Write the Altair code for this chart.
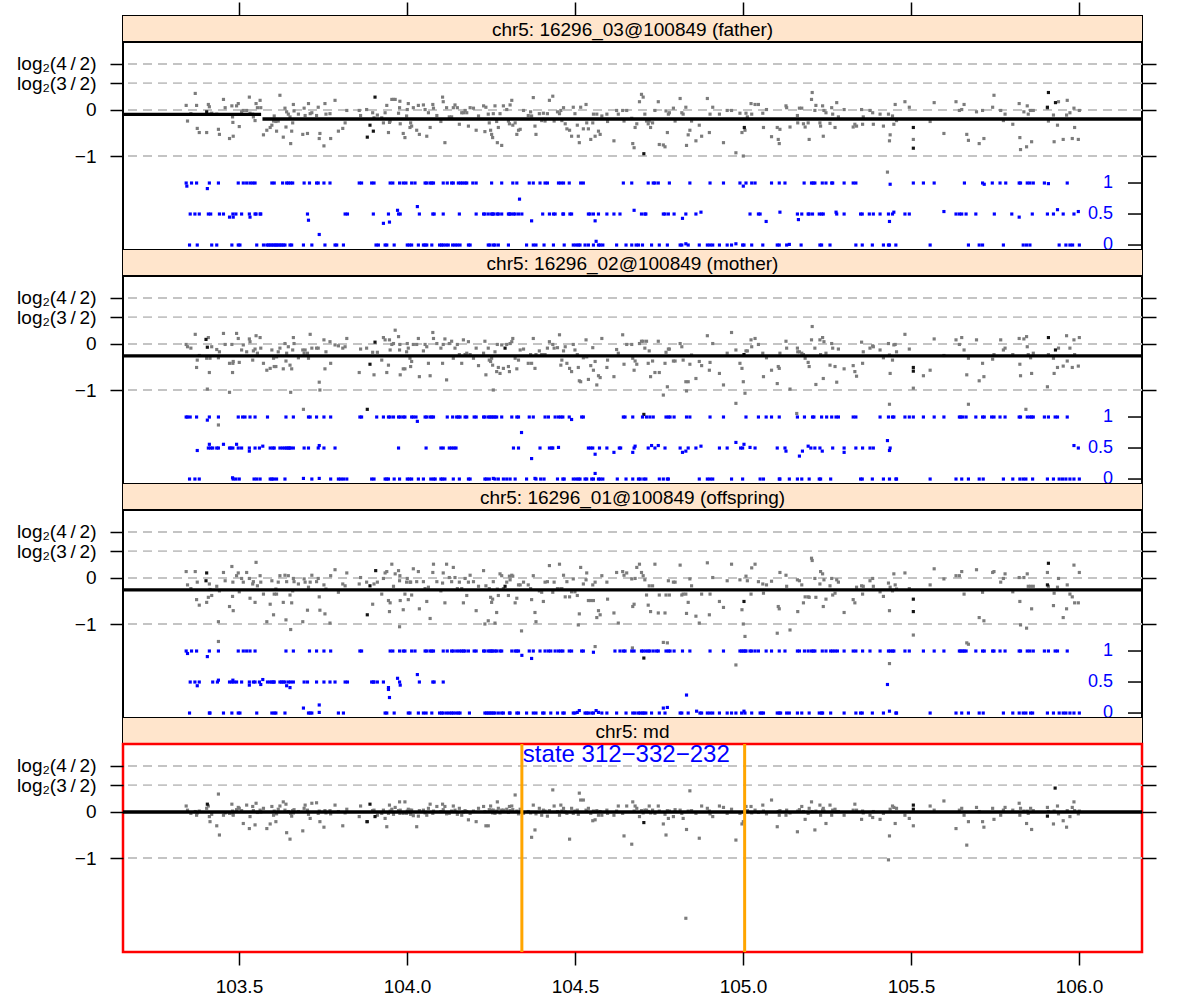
import math
import altair as alt
import pandas as pd

# ---------------------------------------------------------------- scales
X_DOMAIN = [103.155, 106.1875]          # Mb on chr5
Y_DOMAIN = [-3.043, 1.478]              # log2 ratio axis
X_TICKS = [103.5, 104.0, 104.5, 105.0, 105.5, 106.0]
LOG_TICKS = [-1.0, 0.0, math.log2(3 / 2), 1.0]
BAF_TICKS = [0.0, 0.5, 1.0]
BAF_LABELS = ["0", "0.5", "1"]
BAF_BASE, BAF_SPAN = -2.935, 1.348      # B-allele band drawn below the ratios

# ---------------------------------------------------------------- probes (Mb)
POS_A = [
    103.343, 103.347, 103.357, 103.370, 103.374, 103.376, 103.382, 103.404, 103.409, 103.412,
    103.414, 103.419, 103.434, 103.439, 103.442, 103.454, 103.459, 103.472, 103.479, 103.481,
    103.482, 103.483, 103.493, 103.498, 103.501, 103.508, 103.513, 103.523, 103.531, 103.533,
    103.541, 103.543, 103.548, 103.551, 103.555, 103.563, 103.565, 103.573, 103.583, 103.593,
    103.598, 103.603, 103.605, 103.610, 103.612, 103.617, 103.622, 103.632, 103.637, 103.640,
    103.642, 103.647, 103.652, 103.654, 103.657, 103.660, 103.662, 103.664, 103.677, 103.690,
    103.694, 103.697, 103.704, 103.707, 103.712, 103.717, 103.731, 103.736, 103.739, 103.741,
    103.753, 103.756, 103.759, 103.771, 103.773, 103.786, 103.796, 103.809, 103.816, 103.821,
    103.858, 103.862, 103.880, 103.898, 103.902, 103.912, 103.925, 103.930, 103.935, 103.940,
    103.945, 103.948, 103.950, 103.955, 103.960, 103.965, 103.975, 103.978, 103.979, 103.980,
    103.989, 103.994, 103.999, 104.001, 104.004, 104.009, 104.011, 104.014, 104.019, 104.029,
    104.034, 104.037, 104.049, 104.054, 104.059, 104.064, 104.069, 104.077, 104.079, 104.089,
    104.101, 104.106, 104.108, 104.113, 104.118, 104.126, 104.133, 104.138, 104.143, 104.150,
    104.156, 104.163, 104.168, 104.173, 104.178, 104.183, 104.188, 104.198, 104.206, 104.213,
    104.228, 104.232, 104.235, 104.242, 104.245, 104.249, 104.252, 104.255, 104.257, 104.262,
    104.267, 104.269, 104.272, 104.277, 104.282, 104.287, 104.297, 104.302, 104.305, 104.307,
    104.312, 104.315, 104.322, 104.327, 104.332, 104.337, 104.347, 104.361, 104.368, 104.371,
    104.376, 104.381, 104.384, 104.394, 104.401, 104.406, 104.411, 104.418, 104.424, 104.434,
    104.438, 104.448, 104.454, 104.458, 104.461, 104.466, 104.471, 104.476, 104.484, 104.490,
    104.495, 104.500, 104.507, 104.510, 104.513, 104.517, 104.525, 104.533, 104.535, 104.540,
    104.547, 104.553, 104.555, 104.560, 104.565, 104.570, 104.575, 104.580, 104.595, 104.597,
    104.616, 104.624, 104.629, 104.642, 104.646, 104.654,
]
POS_B = [
    104.669, 104.672, 104.676, 104.679, 104.684, 104.692, 104.698, 104.703, 104.708, 104.713,
    104.718, 104.721, 104.725, 104.731, 104.738, 104.748, 104.751, 104.763, 104.768, 104.771,
    104.775, 104.778, 104.781, 104.793, 104.798, 104.813, 104.818, 104.822, 104.830, 104.832,
    104.837, 104.842, 104.847, 104.860, 104.870, 104.877, 104.894, 104.900, 104.902, 104.910,
    104.930, 104.942, 104.953, 104.966, 104.979, 104.991, 104.997, 105.001, 105.006, 105.009,
    105.013, 105.024, 105.026, 105.036, 105.046, 105.059, 105.061, 105.070, 105.085, 105.102,
    105.105, 105.108, 105.110, 105.128, 105.130, 105.140, 105.162, 105.163, 105.168, 105.175,
    105.180, 105.185, 105.194, 105.197, 105.204, 105.206, 105.214, 105.217, 105.229, 105.231,
    105.237, 105.239, 105.241, 105.247, 105.259, 105.264, 105.267, 105.274, 105.279, 105.284,
    105.301, 105.328, 105.333, 105.338, 105.353, 105.356, 105.358, 105.378, 105.386, 105.388,
    105.408, 105.418, 105.433, 105.436, 105.438, 105.445, 105.449, 105.453, 105.457, 105.482,
    105.495, 105.507, 105.557, 105.569, 105.598, 105.634, 105.644, 105.651, 105.658, 105.666,
    105.671, 105.695, 105.703, 105.713, 105.717, 105.743, 105.747, 105.767, 105.775, 105.780,
    105.803, 105.822, 105.824, 105.826, 105.836, 105.844, 105.846, 105.849, 105.856, 105.859,
    105.864, 105.906, 105.909, 105.924, 105.926, 105.936, 105.939, 105.953, 105.963, 105.965,
    105.973, 105.980, 105.985, 105.987, 105.998, 106.001,
]

# ---------------------------------------------------------------- log2 ratios
LR_FATHER = [
    0.10, -0.24, -0.08, 0.36, 0.10, -0.40, -0.49, -0.49, 0.12, 0.07,
    -0.09, -0.07, -0.09, -0.42, -0.53, 0.23, 0.05, -0.62, 0.09, -0.15,
    -0.27, -0.57, 0.09, 0.14, -0.36, -0.04, -0.01, -0.01, 0.28, -0.07,
    -0.09, -0.15, -0.23, 0.14, 0.05, 0.21, 0.05, -0.54, -0.44, -0.38,
    -0.33, -0.24, -0.13, -0.25, -0.46, -0.24, 0.32, -0.59, 0.04, -0.37,
    -0.04, -0.09, -0.15, -0.73, -0.46, -0.28, 0.12, -0.02, -0.09, -0.53,
    0.04, -0.12, -0.51, 0.14, -0.08, -0.06, -0.12, 0.06, -0.62, -0.51,
    -0.78, 0.14, -0.09, -0.08, -0.62, 0.21, -0.46, -0.40, -0.28, -0.01,
    -0.01, -0.12, 0.01, -0.06, -0.17, -0.11, -0.17, -0.28, -0.06, 0.10,
    -0.49, -0.27, -0.24, 0.23, 0.23, 0.23, -0.07, 0.05, 0.19, -0.30,
    -0.51, -0.60, -0.13, 0.01, 0.14, -0.38, -0.28, -0.35, 0.05, -0.44,
    0.10, -0.53, 0.11, 0.01, -0.57, -0.06, -0.38, 0.12, 0.04, -0.12,
    -0.25, 0.28, 0.18, -0.71, 0.05, -0.15, -0.15, 0.05, 0.11, 0.05,
    -0.31, -0.06, -0.06, -0.01, -0.06, -0.35, 0.05, 0.04, -0.44, -0.13,
    0.09, -0.47, 0.06, -0.09, -0.28, -0.44, -0.53, -0.60, -0.08, 0.09,
    -0.25, -0.71, -0.38, -0.08, -0.77, 0.09, 0.01, -0.24, -0.30, 0.11,
    0.21, -0.33, -0.28, -0.53, -0.44, -0.42, -0.01, -0.12, -0.04, -0.13,
    0.27, -0.35, -0.53, -0.08, -0.23, -0.07, -0.24, -0.08, 0.21, 0.30,
    -0.24, -0.04, -0.08, -0.01, -0.23, 0.05, -0.30, -0.41, -0.44, -0.57,
    0.06, -0.08, -0.33, -0.57, -0.71, 0.06, -0.41, 0.12, -0.28, -0.41,
    -0.64, -0.28, -0.09, -0.57, -0.09, -0.46, -0.53, -0.13, -0.09, -0.25,
    -0.67, -0.01, -0.09, -0.01, -0.24, -0.01,
    -0.18, -0.73, -0.82, -0.38, -0.30, 0.18, 0.34, 0.28, -0.09, -0.24,
    -0.30, -0.24, -0.38, -0.28, -0.01, 0.18, -0.75, -0.76, -0.80, -0.02,
    -0.49, -0.09, -0.06, 0.04, -0.24, 0.25, -0.06, -0.09, 0.06, -0.77,
    -0.54, -0.44, -0.24, -0.67, -0.33, -0.57, 0.25, -0.49, -0.09, 0.06,
    -0.09, -0.71, -0.01, -0.01, -0.93, -0.07, -0.49, -1.00, -0.44, -0.07,
    -0.15, 0.14, -0.09, 0.12, 0.12, -0.07, -0.38, 0.01, -0.58, -0.38,
    -0.64, -0.73, -0.42, 0.09, 0.05, -0.37, -0.12, -0.28, 0.04, 0.04,
    -0.30, -0.37, -0.28, -0.64, 0.23, 0.38, -0.01, 0.10, -0.28, -0.35,
    0.09, -0.57, -0.01, -0.06, -0.29, 0.05, -0.09, -0.38, 0.16, -0.15,
    0.01, -0.37, -0.31, -0.35, 0.01, -0.31, -0.15, -0.01, -0.06, -0.31,
    -0.09, -0.35, -0.09, -0.67, -0.54, -0.13, -0.31, 0.12, -0.23, 0.18,
    0.06, -0.64, -0.25, 0.16, -0.51, 0.18, -0.01, 0.01, 0.12, -0.53,
    -0.66, -0.04, -0.73, -0.01, -0.62, 0.06, 0.32, -0.01, -0.23, -0.09,
    -0.31, 0.14, -0.60, -0.86, -0.04, -0.80, 0.09, -0.09, -0.01, -0.69,
    -0.01, 0.04, -0.24, -0.11, -0.69, -0.33, 0.18, -0.64, -0.11, 0.21,
    -0.06, -0.62, 0.04, -0.38, -0.64, -0.01,
]
LR_MOTHER = [
    -0.01, -0.06, -0.09, 0.21, -0.51, -0.35, -0.25, -0.31, 0.14, -0.62,
    -0.31, -0.06, -0.12, -0.30, -0.17, 0.23, -0.01, -0.42, -0.01, -0.62,
    -0.42, -0.38, 0.23, 0.12, -0.40, -0.13, -0.02, -0.17, 0.11, 0.05,
    -0.35, -0.15, -0.11, 0.18, -0.20, 0.14, -0.09, -0.42, -0.57, -0.53,
    -0.13, -0.31, -0.49, -0.49, -0.28, -0.17, -0.09, -0.54, 0.01, -0.37,
    -0.20, -0.06, -0.46, -1.05, -0.54, -0.13, 0.14, 0.01, -0.30, -0.13,
    -0.20, -0.13, -0.20, -0.31, 0.21, -0.09, -0.09, -0.09, -0.83, -1.00,
    0.09, -0.54, -0.17, 0.05, -0.42, -0.02, -0.04, -0.09, -0.06, 0.12,
    -0.62, -0.11, -0.09, -0.18, -0.67, -0.18, -0.35, 0.14, 0.09, -0.62,
    -0.46, 0.09, -0.13, -0.01, 0.01, 0.30, 0.16, -0.13, -0.01, -0.67,
    -0.54, -0.54, -0.17, 0.01, -0.09, -0.31, -0.49, -0.38, -0.01, -0.01,
    0.12, -0.71, -0.15, -0.01, -0.06, -0.42, -0.69, 0.25, 0.12, 0.01,
    -0.09, -0.42, -0.01, 0.11, -0.78, 0.01, 0.06, -0.31, -0.09, -0.01,
    -0.23, -0.42, 0.09, -0.23, -0.20, 0.05, -0.23, -0.31, -0.09, -0.47,
    -0.20, 0.06, -0.67, -0.09, -0.35, -0.38, -0.31, -0.46, -1.00, -0.17,
    -0.60, -0.01, -0.51, -0.64, -0.02, -0.53, -0.01, -0.49, -0.60, 0.01,
    0.05, 0.12, -0.31, -0.54, -0.35, -0.13, -0.11, -0.42, -0.23, -0.42,
    0.12, -0.53, -0.23, -0.15, -0.23, -0.23, -0.23, -0.09, 0.05, -0.01,
    -0.09, -0.08, 0.20, -0.46, -0.35, -0.15, -0.06, -0.42, -0.53, -0.60,
    -0.01, -0.13, -0.23, -0.51, -0.80, -0.82, -0.30, 0.09, -0.28, -0.77,
    -0.47, -0.08, -0.57, -0.38, -0.89, -0.69, -0.73, 0.12, -0.51, -0.35,
    -0.71, -0.12, -0.20, 0.20, -0.44, -0.01,
    -0.01, -0.31, -0.57, -0.37, -0.44, 0.01, 0.06, 0.06, -0.09, 0.06,
    -0.42, -0.15, -0.71, -0.37, -0.62, 0.06, -0.62, -1.11, -0.42, -0.18,
    -0.93, -0.11, -0.11, -0.37, -0.37, 0.01, -0.06, -0.35, -0.82, -1.02,
    -0.82, -0.44, -0.24, -0.75, -0.38, -0.47, 0.18, -0.57, -0.40, 0.01,
    -0.64, -0.89, -0.20, 0.25, -0.13, -0.42, -0.53, -0.82, -1.07, -0.15,
    -0.15, 0.09, -0.06, 0.12, -0.01, -0.20, -0.71, -0.30, -0.57, -0.86,
    -0.49, -0.53, -0.20, 0.06, -0.09, -0.98, -0.09, -0.17, -0.17, -0.20,
    -0.23, -0.31, -0.40, -0.49, 0.09, 0.38, -0.09, -0.88, 0.09, -0.23,
    0.14, -0.75, 0.05, -0.20, -0.46, 0.01, -0.09, -0.49, -0.83, -0.11,
    -0.54, -0.47, -0.60, -0.70, 0.04, -0.42, -0.17, -0.09, -0.04, -0.06,
    -0.13, -0.30, 0.01, -0.24, -0.64, -0.35, -0.02, -0.01, -0.17, 0.21,
    -0.11, -0.96, -0.57, 0.11, -0.25, 0.09, -0.01, 0.14, -0.13, -0.67,
    -0.31, 0.09, -0.80, -0.42, -0.71, -0.33, -0.23, 0.09, -0.13, -0.09,
    -0.23, 0.12, -0.44, -0.69, 0.11, 0.16, -0.06, -0.23, -0.30, -0.64,
    -0.20, -0.93, -0.23, -0.31, -0.64, -0.51, -0.09, -0.48, 0.18, -0.37,
    -0.09, -0.51, 0.09, -0.23, -0.48, 0.14,
]
LR_OFFSPRING = [
    0.14, -0.15, -0.23, 0.14, -0.47, -0.09, -0.59, -0.53, -0.42, -0.13,
    -0.25, -0.38, -0.18, -0.95, -0.28, 0.12, -0.06, -0.62, 0.25, -0.40,
    -0.09, -0.71, 0.05, 0.11, -0.30, -0.01, -0.09, 0.12, -0.01, -0.44,
    -0.13, -0.08, -0.53, 0.34, -0.17, 0.05, -0.09, -0.35, -0.95, -0.57,
    -0.06, -0.80, -0.35, -0.24, -0.35, -0.09, 0.05, -0.53, 0.06, -0.91,
    -0.08, 0.05, -0.37, -1.12, -0.54, -0.28, -0.01, -0.08, -0.13, -0.95,
    -0.02, -0.09, -0.70, -0.20, -0.09, 0.06, -0.08, -0.01, -0.41, -0.70,
    -0.15, -0.78, -0.24, -0.98, 0.05, 0.18, -0.31, -0.13, -0.17, 0.11,
    -0.13, 0.01, -0.09, -0.57, -0.13, -0.09, -0.35, -0.01, 0.11, 0.14,
    -0.49, -0.73, -0.54, 0.30, -0.18, 0.09, 0.16, -0.06, 0.05, -0.49,
    -0.69, -0.35, -0.09, -0.01, -0.47, -0.09, -0.09, -0.37, 0.20, -0.08,
    0.14, -0.67, -0.08, -0.23, -0.51, -0.20, -0.88, 0.12, 0.30, -0.08,
    -0.28, -0.11, 0.11, -0.54, 0.30, 0.01, -0.08, 0.23, 0.01, -0.23,
    -0.09, -0.23, -0.54, -0.01, -0.38, -0.09, 0.06, -0.08, -0.71, -0.18,
    0.16, -1.00, -0.17, -0.93, -0.23, -0.42, -0.53, -0.46, -0.08, -0.98,
    -0.75, -0.24, -0.38, 0.09, 0.05, -0.23, -0.09, -0.38, 0.04, -0.04,
    0.06, 0.04, -0.54, -0.44, -0.15, -0.15, -0.09, -0.15, -0.23, -0.47,
    0.05, -0.75, -0.95, -0.28, -0.31, -0.51, -0.09, -0.08, 0.27, -0.31,
    -0.09, -0.23, 0.30, -0.23, -0.23, 0.06, -0.41, -0.08, -0.41, -0.30,
    -0.02, -0.30, -0.38, -1.02, -0.78, 0.23, -0.13, -0.04, 0.11, -0.49,
    -0.49, -0.15, -0.49, -0.09, -0.86, -0.71, -0.80, 0.05, -0.09, -0.46,
    -0.76, 0.12, -0.98, 0.14, 0.06, 0.11,
    -0.02, -0.62, -0.57, -0.01, 0.23, 0.30, 0.12, 0.05, -0.04, -0.37,
    -0.59, -0.17, -0.73, -0.17, 0.30, -0.76, -0.37, -1.40, -0.76, -0.37,
    -1.41, -0.06, -0.37, -0.09, -0.09, 0.28, -0.37, -0.35, -0.35, -0.77,
    -0.53, -0.02, -0.17, -0.83, -0.98, -0.35, 0.33, -0.80, -0.35, 0.01,
    -0.51, -0.64, -0.06, 0.30, -1.89, -0.04, -0.69, -1.00, -1.27, 0.04,
    -0.06, -0.35, 0.22, 0.30, -0.08, -0.13, -0.33, -0.15, -0.07, -1.20,
    -0.62, -0.67, 0.12, 0.06, -0.18, -1.13, -0.04, -0.73, -0.06, -0.15,
    -0.54, -0.41, -0.41, -0.42, 0.43, 0.38, -0.01, -0.42, -0.13, 0.14,
    0.09, -0.62, -0.04, -0.46, -0.17, -0.01, -0.37, -0.33, -0.04, -0.09,
    -0.75, -0.47, -0.54, -0.20, -0.17, -0.35, -0.18, -0.06, -0.01, -0.18,
    -0.30, -0.40, -0.11, -0.71, -0.20, -0.28, 0.09, -0.15, -0.24, 0.11,
    -0.23, -1.24, -0.15, 0.20, -0.02, 0.05, 0.05, 0.14, -0.35, -1.41,
    -1.44, 0.18, -0.86, -0.31, -0.93, 0.12, 0.14, -0.09, -0.01, 0.09,
    -0.30, 0.01, -0.51, -1.02, 0.01, -1.09, 0.09, -0.18, -0.18, -0.67,
    -0.18, 0.12, -0.18, -0.60, -0.33, -0.20, -0.01, -0.86, -0.67, -0.15,
    -0.35, -0.41, 0.28, -0.54, -0.54, 0.12,
]
LR_MD = [
    0.13, 0.04, -0.03, 0.01, -0.07, -0.02, 0.02, 0.08, 0.13, -0.10,
    -0.21, -0.05, -0.30, 0.39, -0.50, -0.07, -0.02, -0.03, 0.17, 0.02,
    -0.04, -0.07, 0.05, 0.10, 0.08, 0.03, -0.25, 0.15, -0.36, -0.10,
    0.12, 0.03, -0.28, 0.19, -0.01, 0.04, 0.00, 0.08, -0.36, -0.26,
    0.12, -0.07, 0.02, -0.21, -0.04, 0.06, 0.13, 0.22, 0.04, 0.17,
    -0.45, 0.01, -0.59, -0.03, -0.09, 0.03, -0.02, 0.05, 0.01, -0.41,
    0.08, 0.15, 0.04, -0.05, -0.14, 0.19, 0.20, -0.03, 0.02, -0.21,
    -0.33, 0.03, -0.02, 0.03, -0.04, 0.15, 0.01, -0.30, -0.02, 0.06,
    -0.10, 0.13, -0.21, 0.03, 0.04, -0.07, -0.03, 0.04, -0.14, -0.32,
    -0.03, 0.15, 0.02, 0.06, -0.05, 0.10, 0.03, 0.22, -0.03, 0.04,
    -0.03, 0.22, -0.03, 0.02, 0.06, 0.04, -0.05, 0.04, -0.08, -0.32,
    -0.09, 0.03, 0.04, -0.02, -0.07, 0.08, 0.17, -0.03, 0.02, 0.12,
    0.01, 0.17, 0.05, 0.12, -0.04, -0.03, 0.02, 0.13, 0.04, -0.05,
    0.08, -0.07, 0.00, 0.03, 0.01, -0.17, -0.03, 0.02, -0.21, 0.08,
    0.12, 0.01, -0.30, -0.30, 0.05, 0.13, 0.04, -0.02, 0.04, -0.03,
    0.02, 0.22, 0.08, -0.02, 0.04, 0.04, 0.06, -0.01, 0.12, 0.03,
    0.13, 0.05, 0.37, 0.02, -0.04, 0.06, -0.03, 0.01, -0.02, -0.55,
    0.15, -0.39, -0.04, 0.08, -0.07, 0.04, 0.02, -0.09, 0.03, 0.48,
    0.13, 0.01, -0.07, 0.15, 0.02, 0.08, 0.00, -0.03, -0.59, 0.08,
    -0.03, 0.02, 0.04, -0.05, 0.41, 0.26, 0.26, 0.04, 0.01, 0.08,
    -0.03, -0.19, 0.02, -0.17, 0.03, -0.07, 0.01, -0.07, 0.04, -0.03,
    -0.07, 0.02, 0.13, -0.03, -0.52, 0.13,
    -0.70, 0.22, 0.02, 0.13, 0.08, -0.10, 0.03, -0.02, 0.04, 0.04,
    0.01, 0.13, -0.02, 0.04, -0.03, 0.13, 0.02, -0.26, -0.05, -0.50,
    0.03, -0.14, 0.02, -0.10, 0.05, 0.04, -0.03, -0.14, -2.31, -0.38,
    0.02, 0.46, 0.03, -0.03, -0.57, 0.13, 0.08, 0.02, -0.04, -0.10,
    0.13, 0.10, -0.03, 0.06, -0.61, -0.03, -0.26, -0.21, 0.02, 0.12,
    0.03, 0.12, -0.02, 0.04, -0.01, 0.15, 0.02, -0.04, 0.26, -0.32,
    0.01, -0.07, 0.03, -0.07, 0.04, -0.02, -0.43, 0.02, 0.05, 0.12,
    0.01, -0.16, -0.03, 0.08, 0.22, 0.01, -0.39, 0.02, 0.15, -0.07,
    0.04, 0.08, 0.02, -0.25, 0.15, -0.07, 0.04, 0.06, 0.01, 0.01,
    -0.07, 0.04, 0.17, 0.04, -0.16, 0.02, -0.02, -0.07, -0.12, 0.01,
    -0.16, -0.03, -1.04, -0.52, 0.06, 0.13, 0.10, -0.25, 0.08, -0.07,
    -0.14, -0.30, 0.13, 0.04, 0.24, -0.36, 0.04, 0.08, -0.07, -0.72,
    -0.21, 0.10, 0.01, -0.21, -0.33, 0.08, -0.16, -0.07, 0.04, 0.10,
    0.04, 0.19, -0.07, 0.08, 0.02, -0.25, 0.02, -0.03, 0.08, -0.38,
    0.03, 0.10, 0.01, -0.26, 0.02, 0.13, -0.04, -0.19, -0.33, 0.03,
    -0.10, 0.10, 0.22, 0.03, -0.04, 0.02,
]

# probes off the main cloud, and the darker (flagged) probes: (Mb, log2 ratio)
EXTRA_FATHER = [(105.430, -1.35)]
EXTRA_MOTHER = [(103.406, -0.98), (103.439, -1.76), (103.472, -1.05), (103.692, -1.42),
                (104.979, -1.29), (105.160, -1.51), (105.436, -1.31), (105.537, -0.69),
                (105.671, -1.31), (105.842, -1.42)]
EXTRA_OFFSPRING = [(103.439, -1.38), (103.978, -1.06), (104.341, -1.15), (104.560, -1.49),
                   (104.671, -1.52), (105.436, -1.86)]
EXTRA_MD = []

DARK_FATHER = [(103.404, -0.04), (103.882, -0.59), (103.890, -0.33), (103.900, -0.46),
               (103.905, 0.28), (104.705, -0.95), (105.004, -0.38), (105.507, -0.38),
               (105.507, -0.83), (105.906, 0.06), (105.909, 0.38), (105.930, 0.16)]
DARK_MOTHER = [(103.402, 0.10), (103.406, -0.07), (103.882, -1.42), (103.890, -0.44),
               (103.905, 0.04), (104.292, -0.09), (104.705, -1.53), (105.003, -0.23),
               (105.507, -0.51), (105.507, -0.59), (105.909, 0.14), (105.930, -0.13)]
DARK_OFFSPRING = [(103.402, -0.06), (103.404, 0.11), (103.882, -0.80), (103.890, -0.17),
                  (103.907, 0.16), (104.292, -0.18), (104.705, -1.74), (105.003, -0.51),
                  (105.507, -0.46), (105.507, -0.73), (105.906, -0.15), (105.909, 0.32)]
DARK_MD = [(103.406, 0.17), (103.882, -0.21), (103.890, 0.17), (103.905, -0.10),
           (104.705, -0.23), (105.507, 0.15), (105.507, 0.06), (105.906, -0.09),
           (105.929, 0.52)]

# segment calls: (start Mb, end Mb, mean log2 ratio)
SEG_FATHER = [(103.155, 103.566, -0.094), (103.570, 106.1875, -0.196)]
SEG_MOTHER = [(103.155, 106.1875, -0.26)]
SEG_OFFSPRING = [(103.155, 106.1875, -0.26)]
SEG_MD = [(103.155, 106.1875, 0.0)]

# ---------------------------------------------------------------- B-allele frequencies
BAF_F_B = [103.343, 103.359, 103.374, 103.412, 103.439, 103.498, 103.513, 103.523, 103.533, 103.541,
           103.548, 103.598, 103.605, 103.630, 103.642, 103.647, 103.654, 103.660, 103.694, 103.710,
           103.731, 103.736, 103.753, 103.771, 103.858, 103.865, 103.895, 103.902, 103.950, 103.958,
           103.978, 103.989, 103.997, 104.014, 104.024, 104.054, 104.059, 104.069, 104.074, 104.079,
           104.108, 104.120, 104.133, 104.138, 104.153, 104.160, 104.166, 104.173, 104.178, 104.196,
           104.206, 104.252, 104.282, 104.315, 104.327, 104.364, 104.376, 104.396, 104.411, 104.418,
           104.451, 104.458, 104.466, 104.483, 104.517, 104.525, 104.644,
           104.669, 104.718, 104.733, 104.738, 104.748, 104.781, 104.842, 104.902, 104.942, 104.991,
           105.009, 105.026, 105.036, 105.085, 105.108, 105.125, 105.182, 105.204, 105.209, 105.214,
           105.236, 105.247, 105.264, 105.267, 105.301, 105.328, 105.336, 105.507, 105.537, 105.569,
           105.659, 105.713, 105.742, 105.765, 105.782, 105.822, 105.826, 105.846, 105.854, 105.864,
           105.897, 105.965]
BAF_F_H = [103.355, 103.369, 103.382, 103.409, 103.416, 103.442, 103.454, 103.482, 103.491, 103.508,
           103.531, 103.548, 103.551, 103.563, 103.565, 103.704, 103.816, 103.823, 103.900, 103.945,
           103.975, 103.980, 104.037, 104.077, 104.081, 104.108, 104.156, 104.206, 104.228, 104.232,
           104.242, 104.252, 104.255, 104.259, 104.269, 104.272, 104.282, 104.302, 104.305, 104.309,
           104.317, 104.322, 104.332, 104.342, 104.404, 104.424, 104.436, 104.441, 104.464, 104.466,
           104.485, 104.490, 104.540, 104.545, 104.555, 104.570, 104.595, 104.616, 104.634,
           104.698, 104.708, 104.711, 104.763, 104.768, 104.778, 104.795, 104.830, 104.860, 105.021,
           105.046, 105.051, 105.162, 105.175, 105.194, 105.197, 105.207, 105.227, 105.234, 105.239,
           105.279, 105.301, 105.350, 105.355, 105.376, 105.388, 105.408, 105.433, 105.445, 105.482,
           105.495, 105.634, 105.644, 105.651, 105.664, 105.693, 105.748, 105.800, 105.861, 105.906,
           105.924, 105.953, 105.985]
BAF_F_A = [103.353, 103.376, 103.419, 103.434, 103.479, 103.498, 103.503, 103.553, 103.573, 103.583,
           103.588, 103.593, 103.598, 103.603, 103.608, 103.612, 103.617, 103.622, 103.627, 103.632,
           103.637, 103.652, 103.657, 103.692, 103.717, 103.756, 103.786, 103.791, 103.811, 103.908,
           103.915, 103.935, 103.940, 103.962, 104.001, 104.007, 104.014, 104.034, 104.049, 104.054,
           104.059, 104.074, 104.097, 104.103, 104.108, 104.116, 104.123, 104.136, 104.143, 104.150,
           104.158, 104.183, 104.188, 104.242, 104.247, 104.257, 104.262, 104.272, 104.302, 104.356,
           104.376, 104.384, 104.408, 104.436, 104.468, 104.495, 104.503, 104.510, 104.515, 104.530,
           104.540, 104.555, 104.570, 104.575, 104.583, 104.624, 104.652,
           104.669, 104.682, 104.689, 104.701, 104.728, 104.751, 104.775, 104.813, 104.818, 104.837,
           104.870, 104.894, 104.902, 104.910, 104.930, 104.953, 104.966, 104.999, 105.003, 105.026,
           105.059, 105.102, 105.108, 105.130, 105.173, 105.229, 105.234, 105.259, 105.336, 105.355,
           105.385, 105.418, 105.433, 105.436, 105.455, 105.557, 105.671, 105.703, 105.713, 105.775,
           105.834, 105.844, 105.854, 105.941, 105.961, 105.973, 105.981, 106.001]
BAF_F_OTHER = [(103.345, 0.95), (103.406, 0.91), (105.001, 0.95), (105.438, 0.98), (105.718, 0.98),
               (105.909, 0.99), (103.472, 0.45), (103.483, 0.45), (103.533, 0.45), (103.707, 0.40),
               (103.930, 0.35), (103.948, 0.37), (103.972, 0.56), (104.031, 0.62), (104.335, 0.74),
               (104.371, 0.39), (104.560, 0.39), (104.676, 0.56), (104.820, 0.43), (104.875, 0.53),
               (105.069, 0.38), (105.110, 0.53), (105.165, 0.41), (105.277, 0.53), (105.436, 0.38),
               (105.449, 0.53), (105.598, 0.54), (105.822, 0.45), (105.936, 0.57), (105.998, 0.54),
               (103.739, 0.17), (104.563, 0.06), (104.830, 0.02), (104.979, 0.02), (105.138, 0.01)]

BAF_M_B = [103.343, 103.347, 103.355, 103.374, 103.412, 103.439, 103.498, 103.511, 103.518, 103.533,
           103.548, 103.585, 103.640, 103.662, 103.707, 103.712, 103.731, 103.753, 103.773, 103.860,
           103.865, 103.910, 103.930, 103.945, 103.950, 103.960, 103.975, 103.980, 103.989, 103.994,
           104.014, 104.019, 104.027, 104.054, 104.059, 104.069, 104.074, 104.079, 104.120, 104.136,
           104.148, 104.153, 104.158, 104.173, 104.178, 104.200, 104.206, 104.228, 104.232, 104.242,
           104.247, 104.252, 104.257, 104.262, 104.267, 104.282, 104.312, 104.327, 104.332, 104.364,
           104.376, 104.411, 104.421, 104.441, 104.451, 104.458, 104.464, 104.483, 104.520, 104.525,
           104.644, 104.649,
           104.672, 104.701, 104.713, 104.723, 104.733, 104.771, 104.778, 104.783, 104.795, 104.832,
           104.842, 104.902, 104.942, 105.009, 105.046, 105.069, 105.085, 105.108, 105.162, 105.183,
           105.207, 105.211, 105.234, 105.249, 105.264, 105.277, 105.284, 105.328, 105.336, 105.408,
           105.433, 105.445, 105.449, 105.482, 105.495, 105.507, 105.537, 105.569, 105.598, 105.644,
           105.648, 105.654, 105.664, 105.693, 105.713, 105.718, 105.740, 105.747, 105.765, 105.780,
           105.822, 105.826, 105.846, 105.854, 105.859, 105.864, 105.897, 105.909, 105.929, 105.936,
           105.965]
BAF_M_H = [103.409, 103.416, 103.422, 103.434, 103.439, 103.472, 103.476, 103.482, 103.498, 103.508,
           103.531, 103.548, 103.561, 103.593, 103.601, 103.605, 103.622, 103.630, 103.637, 103.642,
           103.647, 103.650, 103.654, 103.662, 103.694, 103.707, 103.736, 103.753, 103.786, 103.975,
           104.057, 104.101, 104.108, 104.126, 104.133, 104.140, 104.146, 104.317, 104.332, 104.396,
           104.424, 104.431, 104.434, 104.540, 104.547, 104.553, 104.573, 104.595, 104.632, 104.636,
           104.676, 104.718, 104.738, 104.768, 104.813, 104.837, 104.860, 104.930, 104.953, 104.993,
           104.999, 105.036, 105.102, 105.125, 105.202, 105.214, 105.229, 105.267, 105.301, 105.336,
           105.356, 105.378, 105.388, 105.438, 105.998]
BAF_M_A = [103.353, 103.369, 103.382, 103.483, 103.491, 103.501, 103.545, 103.553, 103.563, 103.593,
           103.598, 103.603, 103.612, 103.637, 103.717, 103.773, 103.796, 103.803, 103.811, 103.821,
           103.895, 103.902, 103.935, 103.940, 103.945, 103.962, 103.978, 104.001, 104.007, 104.014,
           104.034, 104.049, 104.071, 104.079, 104.084, 104.101, 104.106, 104.113, 104.138, 104.156,
           104.183, 104.188, 104.232, 104.237, 104.245, 104.262, 104.272, 104.287, 104.297, 104.307,
           104.322, 104.356, 104.384, 104.398, 104.408, 104.448, 104.464, 104.468, 104.495, 104.503,
           104.510, 104.515, 104.530, 104.535, 104.550, 104.555, 104.570, 104.575, 104.583, 104.626,
           104.652,
           104.672, 104.689, 104.694, 104.705, 104.711, 104.751, 104.763, 104.775, 104.778, 104.870,
           104.894, 104.902, 104.910, 104.966, 104.999, 105.051, 105.061, 105.108, 105.110, 105.138,
           105.162, 105.175, 105.197, 105.227, 105.231, 105.261, 105.350, 105.355, 105.385, 105.418,
           105.436, 105.455, 105.457, 105.557, 105.634, 105.651, 105.671, 105.703, 105.715, 105.775,
           105.803, 105.824, 105.834, 105.842, 105.862, 105.906, 105.924, 105.941, 105.951, 105.961,
           105.973, 105.985, 106.001]
BAF_M_OTHER = [(103.406, 0.95), (104.031, 0.93), (104.490, 0.96),
               (103.376, 0.46), (103.412, 0.56), (103.454, 0.56), (103.493, 0.56), (103.531, 0.45),
               (103.571, 0.53), (103.739, 0.54), (104.371, 0.33), (104.451, 0.51), (104.560, 0.40),
               (104.616, 0.43), (104.341, 0.75), (104.672, 0.43), (104.679, 0.53), (104.728, 0.54),
               (104.748, 0.54), (104.820, 0.43), (104.830, 0.45), (104.875, 0.53), (104.979, 0.59),
               (105.003, 0.56), (105.021, 0.51), (105.128, 0.45), (105.168, 0.37), (105.177, 0.45),
               (105.194, 0.53), (105.236, 0.45), (105.301, 0.43), (105.430, 0.62), (105.436, 0.46),
               (105.985, 0.54),
               (103.481, 0.02), (103.692, 0.01), (103.739, 0.01), (104.257, 0.01), (104.381, 0.01),
               (104.560, 0.09)]

BAF_O_B = [103.343, 103.359, 103.374, 103.412, 103.439, 103.498, 103.513, 103.523, 103.533, 103.548,
           103.640, 103.662, 103.710, 103.731, 103.753, 103.773, 103.860, 103.865, 103.950, 103.958,
           103.978, 103.989, 103.994, 104.014, 104.024, 104.054, 104.059, 104.069, 104.074, 104.079,
           104.108, 104.120, 104.133, 104.138, 104.148, 104.156, 104.163, 104.168, 104.173, 104.183,
           104.200, 104.206, 104.228, 104.232, 104.242, 104.247, 104.252, 104.255, 104.262, 104.267,
           104.277, 104.282, 104.312, 104.322, 104.327, 104.332, 104.364, 104.376, 104.396, 104.411,
           104.421, 104.428, 104.441, 104.451, 104.458, 104.464, 104.483, 104.490, 104.520, 104.525,
           104.619, 104.634, 104.644, 104.649,
           104.669, 104.676, 104.698, 104.703, 104.711, 104.718, 104.723, 104.733, 104.743, 104.748,
           104.771, 104.778, 104.783, 104.795, 104.820, 104.842, 104.902, 104.942, 104.991, 104.996,
           105.001, 105.006, 105.009, 105.021, 105.026, 105.036, 105.046, 105.069, 105.085, 105.108,
           105.125, 105.162, 105.168, 105.183, 105.194, 105.204, 105.209, 105.214, 105.236, 105.247,
           105.261, 105.267, 105.274, 105.281, 105.301, 105.328, 105.336, 105.356, 105.378, 105.408,
           105.433, 105.438, 105.445, 105.449, 105.482, 105.495, 105.537, 105.569, 105.598, 105.644,
           105.648, 105.654, 105.658, 105.664, 105.693, 105.713, 105.718, 105.743, 105.747, 105.765,
           105.780, 105.822, 105.826, 105.846, 105.854, 105.864, 105.897, 105.909, 105.929, 105.936,
           105.965]
BAF_O_H = [103.355, 103.369, 103.382, 103.422, 103.436, 103.472, 103.479, 103.485, 103.493, 103.508,
           103.531, 103.543, 103.548, 103.561, 103.585, 103.593, 103.598, 103.603, 103.605, 103.622,
           103.627, 103.632, 103.637, 103.647, 103.654, 103.662, 103.694, 103.704, 103.731, 103.753,
           103.771, 103.786, 103.816, 103.823, 103.895, 103.900, 103.902, 103.912, 103.930, 103.978,
           104.037, 104.077, 104.081, 104.108]
BAF_O_A = [103.353, 103.412, 103.414, 103.454, 103.479, 103.498, 103.503, 103.553, 103.598, 103.605,
           103.610, 103.637, 103.707, 103.712, 103.717, 103.796, 103.811, 103.935, 103.940, 103.962,
           104.004, 104.009, 104.034, 104.049, 104.057, 104.074, 104.097, 104.103, 104.108, 104.118,
           104.126, 104.133, 104.138, 104.146, 104.153, 104.158, 104.186, 104.232, 104.237, 104.242,
           104.247, 104.252, 104.257, 104.262, 104.272, 104.282, 104.287, 104.305, 104.307, 104.327,
           104.332, 104.356, 104.376, 104.384, 104.404, 104.408, 104.428, 104.448, 104.464, 104.468,
           104.495, 104.500, 104.530, 104.535, 104.540, 104.550, 104.555, 104.580, 104.595, 104.624,
           104.652,
           104.672, 104.679, 104.689, 104.694, 104.701, 104.705, 104.711, 104.728, 104.751, 104.768,
           104.813, 104.818, 104.837, 104.872, 104.877, 104.894, 104.902, 104.910, 104.930, 104.953,
           104.966, 104.979, 104.996, 105.006, 105.026, 105.051, 105.056, 105.061, 105.102, 105.108,
           105.112, 105.130, 105.138, 105.162, 105.175, 105.197, 105.227, 105.234, 105.237, 105.261,
           105.301, 105.336, 105.350, 105.355, 105.385, 105.418, 105.455, 105.457, 105.557, 105.634,
           105.651, 105.671, 105.703, 105.715, 105.775, 105.803, 105.822, 105.834, 105.842, 105.856,
           105.862, 105.906, 105.924, 105.941, 105.953, 105.961, 105.973, 105.985, 106.001]
BAF_O_OTHER = [(103.347, 0.96), (103.406, 0.91), (104.342, 0.93), (104.371, 0.88), (104.555, 0.98),
               (103.376, 0.44), (103.439, 0.53), (103.482, 0.53), (103.531, 0.45), (103.565, 0.46),
               (103.571, 0.54), (103.642, 0.44), (103.652, 0.41), (103.945, 0.41), (103.945, 0.38),
               (103.972, 0.56), (103.980, 0.45), (104.031, 0.62), (103.948, 0.25), (103.692, 0.08),
               (103.739, 0.13), (105.430, 0.46), (104.763, 0.08), (104.775, 0.09), (104.832, 0.29),
               (103.739, 0.01), (104.507, 0.01), (104.513, 0.04), (104.563, 0.04), (104.570, 0.01),
               (104.862, 0.03), (105.003, 0.03), (105.436, 0.03)]

# ---------------------------------------------------------------- state call
STATE_START, STATE_END = 104.342, 105.005
STATE_LABEL = "state 312\u2212332\u2212232"

STRIP_LABELS = [
    "chr5: 16296_03@100849 (father)",
    "chr5: 16296_02@100849 (mother)",
    "chr5: 16296_01@100849 (offspring)",
    "chr5: md",
]

# ---------------------------------------------------------------- layout
W, H, SH = 1019, 208, 26
FONT = "Liberation Sans"
GREY, DARK, BLUE = "#7c7c7c", "#141414", "#0000ff"
XS = alt.Scale(domain=X_DOMAIN, nice=False, zero=False)
YS = alt.Scale(domain=Y_DOMAIN, nice=False, zero=False)

# plotmath-style labels: thin spaces around the division sign
LOG_LABEL_EXPR = (
    "datum.value > 0.9 ? 'log\u2082(4\u2009/\u20092)' : "
    "datum.value > 0.5 ? 'log\u2082(3\u2009/\u20092)' : "
    "datum.value > -0.5 ? '0' : '\u22121'"
)


def left_axis():
    return alt.Axis(orient="left", values=LOG_TICKS, labelExpr=LOG_LABEL_EXPR,
                    tickSize=13, tickWidth=1.5, tickColor="black", labelPadding=14,
                    labelFontSize=19, labelColor="black", labelFont=FONT,
                    domain=False, grid=False, title=None)


def right_axis():
    return alt.Axis(orient="right", values=LOG_TICKS, labels=False, tickSize=14,
                    tickWidth=1.5, tickColor="black", domain=False, grid=False, title=None)


def bottom_axis():
    return alt.Axis(orient="bottom", values=X_TICKS, format=".1f", tickSize=13,
                    tickWidth=1.5, tickColor="black", labelPadding=12, labelFontSize=19,
                    labelColor="black", labelFont=FONT, domain=False, grid=False, title=None)


def baf_frame(hom_b, het, hom_a, other):
    rows = ([(x, 1.0) for x in hom_b] + [(x, 0.5) for x in het]
            + [(x, 0.0) for x in hom_a] + list(other))
    df = pd.DataFrame(rows, columns=["pos", "baf"])
    df["y"] = BAF_BASE + BAF_SPAN * df["baf"]
    return df


def strip(label, top_axis=False):
    base = alt.Chart(pd.DataFrame({"label": [label]}))
    bg = base.mark_rect(fill="#ffe5cc").encode(
        x=alt.value(0), x2=alt.value(W), y=alt.value(0), y2=alt.value(SH))
    txt = base.mark_text(fontSize=19, font=FONT, color="black", baseline="middle").encode(
        x=alt.value(W / 2), y=alt.value(SH / 2 + 1), text="label:N")
    layers = [bg, txt]
    if top_axis:
        ticks = alt.Chart(pd.DataFrame({"t": X_TICKS})).mark_point(opacity=0).encode(
            x=alt.X("t:Q", scale=XS,
                    axis=alt.Axis(orient="top", values=X_TICKS, labels=False, tickSize=14,
                                  tickWidth=1.5, tickColor="black", domain=False,
                                  grid=False, title=None)))
        layers.append(ticks)
    return alt.layer(*layers).properties(width=W, height=SH)


def panel(lr, extra, dark, segs, baf=None, last=False):
    xa = bottom_axis() if last else None
    grey = pd.DataFrame({"pos": POS_A + POS_B, "lr": lr})
    if extra:
        grey = pd.concat([grey, pd.DataFrame(extra, columns=["pos", "lr"])], ignore_index=True)
    dark_df = pd.DataFrame(dark, columns=["pos", "lr"])
    seg_df = pd.DataFrame(segs, columns=["x0", "x1", "y"])

    ref = alt.Chart(pd.DataFrame({"v": LOG_TICKS})).mark_rule(
        color="#c4c4c4", strokeWidth=1.8, strokeDash=[9, 6]).encode(
        y=alt.Y("v:Q", scale=YS, axis=left_axis()))
    pts = alt.Chart(grey).mark_square(size=10, color=GREY, opacity=1).encode(
        x=alt.X("pos:Q", scale=XS, axis=xa), y=alt.Y("lr:Q", scale=YS, axis=None))
    dpts = alt.Chart(dark_df).mark_square(size=10, color=DARK, opacity=1).encode(
        x=alt.X("pos:Q", scale=XS, axis=xa), y=alt.Y("lr:Q", scale=YS, axis=None))
    seg = alt.Chart(seg_df).mark_rule(color="black", strokeWidth=3.3).encode(
        x=alt.X("x0:Q", scale=XS, axis=xa), x2="x1:Q",
        y=alt.Y("y:Q", scale=YS, axis=right_axis()))
    layers = [ref, pts, dpts, seg]

    if baf is not None:
        bpts = alt.Chart(baf).mark_square(size=10, color=BLUE, opacity=1).encode(
            x=alt.X("pos:Q", scale=XS, axis=xa), y=alt.Y("y:Q", scale=YS, axis=None))
        tick_df = pd.DataFrame({"v": BAF_TICKS, "lab": BAF_LABELS})
        tick_df["y"] = BAF_BASE + BAF_SPAN * tick_df["v"]
        bticks = alt.Chart(tick_df).mark_rule(color="black", strokeWidth=1.5).encode(
            x=alt.value(W - 14), x2=alt.value(W), y=alt.Y("y:Q", scale=YS, axis=None))
        blabs = alt.Chart(tick_df).mark_text(
            align="right", baseline="middle", color=BLUE, fontSize=18, font=FONT,
            clip=True).encode(
            x=alt.value(W - 29), y=alt.Y("y:Q", scale=YS, axis=None), text="lab:N")
        layers += [bpts, bticks, blabs]

    if last:
        bounds = alt.Chart(pd.DataFrame({"x": [STATE_START, STATE_END]})).mark_rule(
            color="#ffa500", strokeWidth=3).encode(x=alt.X("x:Q", scale=XS, axis=xa))
        note = alt.Chart(pd.DataFrame({"x": [STATE_START], "y": [Y_DOMAIN[1]],
                                       "label": [STATE_LABEL]})).mark_text(
            align="left", baseline="top", color=BLUE, fontSize=24, font=FONT, dx=1, dy=-1).encode(
            x=alt.X("x:Q", scale=XS, axis=xa), y=alt.Y("y:Q", scale=YS, axis=None),
            text="label:N")
        layers += [bounds, note]

    chart = alt.layer(*layers).properties(width=W, height=H)
    if last:
        chart = chart.properties(view=alt.ViewBackground(stroke="#ff0000", strokeWidth=2.5))
    return chart


rows = [
    strip(STRIP_LABELS[0], top_axis=True),
    panel(LR_FATHER, EXTRA_FATHER, DARK_FATHER, SEG_FATHER,
          baf_frame(BAF_F_B, BAF_F_H, BAF_F_A, BAF_F_OTHER)),
    strip(STRIP_LABELS[1]),
    panel(LR_MOTHER, EXTRA_MOTHER, DARK_MOTHER, SEG_MOTHER,
          baf_frame(BAF_M_B, BAF_M_H, BAF_M_A, BAF_M_OTHER)),
    strip(STRIP_LABELS[2]),
    panel(LR_OFFSPRING, EXTRA_OFFSPRING, DARK_OFFSPRING, SEG_OFFSPRING,
          baf_frame(BAF_O_B, BAF_O_H, BAF_O_A, BAF_O_OTHER)),
    strip(STRIP_LABELS[3]),
    panel(LR_MD, EXTRA_MD, DARK_MD, SEG_MD, None, last=True),
]

chart = (
    alt.vconcat(*rows, spacing=0, bounds="flush")
    .properties(padding={"left": 15, "top": 0, "right": 10, "bottom": 5})
    .configure(font=FONT)
    .configure_view(stroke="black", strokeWidth=2)
)

chart.save("out.html", embed_options={"renderer": "svg", "actions": False})
